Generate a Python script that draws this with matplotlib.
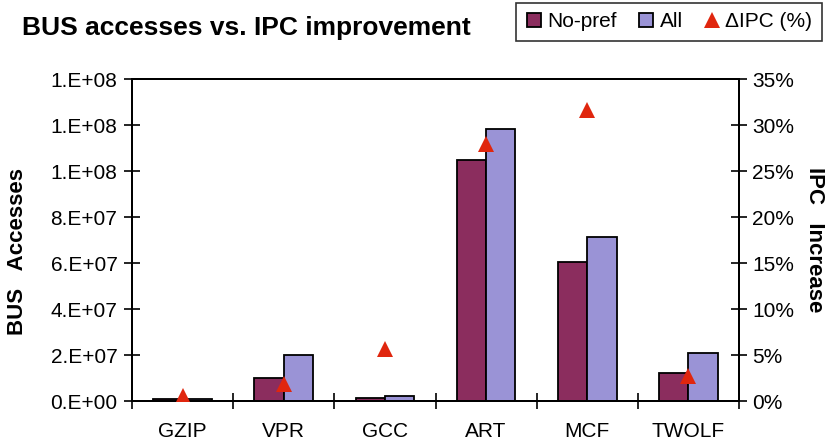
import matplotlib.pyplot as plt
import matplotlib.lines as mlines
import numpy as np

# ── data ─────────────────────────────────────────────────────────────────────
benchmarks = ["GZIP", "VPR", "GCC", "ART", "MCF", "TWOLF"]
bus_nopref = [0.9e6, 1.0e7, 1.4e6, 1.05e8, 6.04e7, 1.23e7]
bus_all    = [0.9e6, 2.01e7, 2.2e6, 1.184e8, 7.13e7, 2.09e7]
ipc_gain   = [0.6, 1.8, 5.7, 27.9, 31.6, 2.7]   # percent

left_ticks  = [0, 2e7, 4e7, 6e7, 8e7, 1.0e8, 1.2e8, 1.4e8]
left_labels = ["0.E+00", "2.E+07", "4.E+07", "6.E+07", "8.E+07",
               "1.E+08", "1.E+08", "1.E+08"]
right_ticks = [0, 5, 10, 15, 20, 25, 30, 35]

# ── style ────────────────────────────────────────────────────────────────────
MAROON = "#8B2D5E"
LAVENDER = "#9A93D6"
RED = "#E0260E"
FS = 15

plt.rcParams.update({
    "font.family": ["Liberation Sans", "DejaVu Sans"],
    "axes.linewidth": 1.4,
})

fig = plt.figure(figsize=(8.26, 4.44), dpi=100)
ax = fig.add_axes([0.1598, 0.0968, 0.7349, 0.7252])

x = np.arange(len(benchmarks))
w = 0.29
ax.bar(x - w / 2, bus_nopref, w, color=MAROON, edgecolor="black", linewidth=1.3, zorder=2)
ax.bar(x + w / 2, bus_all, w, color=LAVENDER, edgecolor="black", linewidth=1.3, zorder=2)

ax.set_xlim(-0.5, len(benchmarks) - 0.5)
ax.set_ylim(0, 1.4e8)
ax.set_yticks(left_ticks)
ax.set_yticklabels(left_labels, fontsize=FS)

# category separators as major ticks, labels on minor ticks at the centers
ax.set_xticks(np.arange(-0.5, len(benchmarks), 1.0))
ax.set_xticklabels([])
ax.set_xticks(x, minor=True)
ax.set_xticklabels(benchmarks, minor=True, fontsize=FS)
ax.tick_params(axis="x", which="major", direction="inout", length=12, width=1.2)
ax.tick_params(axis="x", which="minor", length=0, pad=15)
ax.tick_params(axis="y", direction="inout", length=11, width=1.2, pad=5)

ax.set_ylabel("BUS   Accesses", fontsize=16, fontweight="bold")
ax.yaxis.set_label_coords(-0.172, 0.465)

# right axis: IPC increase
ax2 = ax.twinx()
ax2.set_ylim(0, 35)
ax2.set_yticks(right_ticks)
ax2.set_yticklabels([f"{t}%" for t in right_ticks], fontsize=FS)
ax2.tick_params(axis="y", direction="inout", length=11, width=1.2, pad=4)
ax2.plot(x, ipc_gain, linestyle="none", marker="^", markersize=11,
         color=RED, markeredgewidth=0, zorder=3)
ax2.set_ylabel("IPC   Increase", fontsize=16, fontweight="bold",
               rotation=-90, labelpad=22)

fig.text(0.027, 0.938, "BUS accesses vs. IPC improvement",
         fontsize=19, fontweight="bold", va="center", ha="left")

# legend box in the top-right corner
h1 = mlines.Line2D([], [], linestyle="none", marker="s", markersize=10,
                   markerfacecolor=MAROON, markeredgecolor="black", markeredgewidth=1.3)
h2 = mlines.Line2D([], [], linestyle="none", marker="s", markersize=10,
                   markerfacecolor=LAVENDER, markeredgecolor="black", markeredgewidth=1.3)
h3 = mlines.Line2D([], [], linestyle="none", marker="^", markersize=11,
                   color=RED, markeredgewidth=0)
leg = fig.legend([h1, h2, h3], ["No-pref", "All", "\u0394IPC (%)"],
                 loc="upper right", bbox_to_anchor=(0.995, 0.993), ncol=3,
                 fontsize=FS, frameon=True, fancybox=False,
                 handlelength=0.8, handletextpad=0.25, columnspacing=1.0,
                 borderpad=0.45, borderaxespad=0)
leg.get_frame().set_edgecolor("black")
leg.get_frame().set_linewidth(1.2)

fig.savefig("out.png", dpi=100)
